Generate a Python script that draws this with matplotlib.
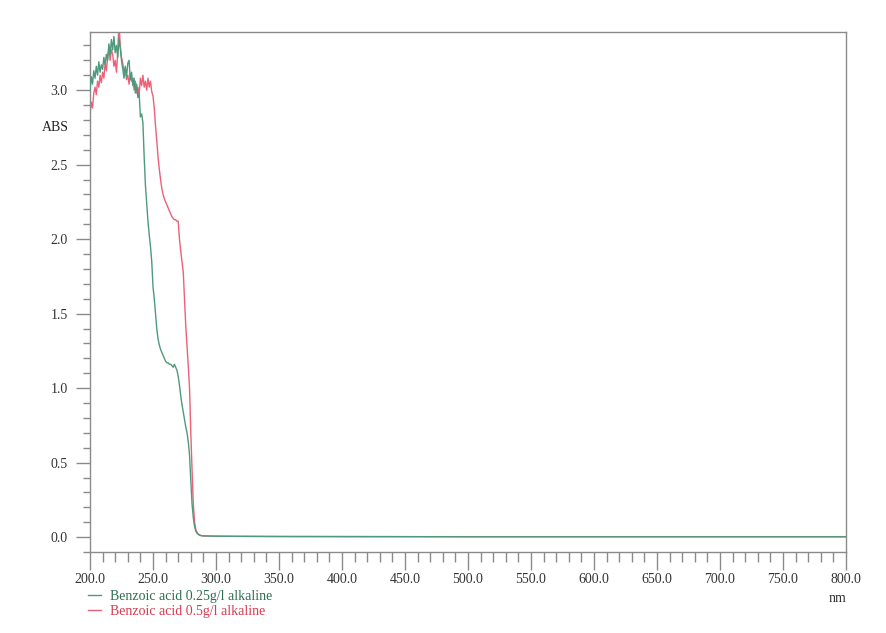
import matplotlib
matplotlib.use("Agg")
import matplotlib.pyplot as plt
from matplotlib.ticker import MultipleLocator, FormatStrFormatter
from matplotlib.lines import Line2D

plt.rcParams['font.family'] = ['Liberation Serif', 'DejaVu Serif']

# ---- data (wavelength in nm, absorbance) ----
wavelength = list(range(200, 291)) + [295, 300, 320, 350, 400, 450, 500, 550,
                                      600, 650, 700, 750, 800]

abs_025 = [3.00, 3.09, 3.04, 3.13, 3.08, 3.16, 3.10, 3.19, 3.12, 3.17,
           3.14, 3.22, 3.17, 3.24, 3.20, 3.31, 3.24, 3.34, 3.27, 3.36,
           3.25, 3.30, 3.22, 3.35, 3.28, 3.20, 3.14, 3.08, 3.16, 3.09,
           3.18, 3.20, 3.07, 3.12, 3.03, 3.08, 2.98, 3.04, 2.95, 2.98,
           2.82, 2.84, 2.78, 2.55, 2.36, 2.24, 2.12, 2.03, 1.95, 1.85,
           1.68,
           1.60, 1.50, 1.40, 1.33, 1.29, 1.26, 1.24, 1.22, 1.20, 1.18,
           1.17, 1.17, 1.16, 1.16, 1.15, 1.14, 1.16, 1.14, 1.12, 1.08,
           1.02, 0.95, 0.89, 0.84, 0.79, 0.74, 0.70, 0.64, 0.55, 0.38,
           0.22, 0.13, 0.07, 0.04, 0.025, 0.018, 0.013, 0.010, 0.009, 0.008,
           0.007, 0.006, 0.005, 0.004, 0.003, 0.003, 0.002, 0.002, 0.002,
           0.002, 0.002, 0.002, 0.002]

abs_05 = [2.84, 2.92, 2.88, 2.98, 3.02, 2.97, 3.06, 3.02, 3.10, 3.05,
          3.12, 3.08, 3.18, 3.13, 3.22, 3.28, 3.20, 3.27, 3.24, 3.16,
          3.20, 3.12, 3.25, 3.45, 3.30, 3.22, 3.18, 3.12, 3.15, 3.07,
          3.10, 3.04, 3.11, 3.06, 3.08, 3.00, 3.06, 2.98, 3.02, 2.97,
          3.08, 3.03, 3.10, 3.02, 3.06, 3.00, 3.08, 3.02, 3.06, 2.99,
          2.96,
          2.88, 2.76, 2.66, 2.55, 2.47, 2.40, 2.34, 2.30, 2.27, 2.25,
          2.23, 2.21, 2.19, 2.17, 2.15, 2.14, 2.13, 2.13, 2.12, 2.12,
          2.00, 1.92, 1.85, 1.78, 1.60, 1.42, 1.28, 1.15, 1.00, 0.70,
          0.45, 0.22, 0.10, 0.05, 0.03, 0.02, 0.014, 0.011, 0.009, 0.008,
          0.007, 0.006, 0.005, 0.004, 0.004, 0.003, 0.003, 0.003, 0.003,
          0.003, 0.003, 0.003, 0.003]

labels = ["Benzoic acid 0.25g/l alkaline", "Benzoic acid 0.5g/l alkaline"]
line_colors = ["#4e9a7c", "#ec6079"]
text_colors = ["#2f6e50", "#d93a50"]

# ---- figure ----
fig = plt.figure(figsize=(8.86, 6.33), dpi=100)
ax = fig.add_axes([90/886, 1-552/633, 756/886, 520/633])

l1, = ax.plot(wavelength, abs_025, color=line_colors[0], lw=1.0, zorder=3)
l2, = ax.plot(wavelength, abs_05, color=line_colors[1], lw=1.0, zorder=2)

ax.set_xlim(200, 800)
ax.set_ylim(-0.1, 3.39)

ax.xaxis.set_major_locator(MultipleLocator(50))
ax.xaxis.set_minor_locator(MultipleLocator(10))
ax.yaxis.set_major_locator(MultipleLocator(0.5))
ax.yaxis.set_minor_locator(MultipleLocator(0.1))
ax.xaxis.set_major_formatter(FormatStrFormatter('%.1f'))
ax.yaxis.set_major_formatter(FormatStrFormatter('%.1f'))
ax.set_yticks([0.0, 0.5, 1.0, 1.5, 2.0, 2.5, 3.0])

for s in ax.spines.values():
    s.set_color('#8a8a8a')
    s.set_linewidth(1.0)

ax.tick_params(axis='x', which='major', direction='out', length=13, width=1,
               color='#8a8a8a', labelsize=10, labelcolor='#333333', pad=2)
ax.tick_params(axis='x', which='minor', direction='out', length=7, width=1,
               color='#8a8a8a')
ax.tick_params(axis='y', which='major', direction='out', length=10, width=1,
               color='#8a8a8a', labelsize=10, labelcolor='#333333', pad=6)
ax.tick_params(axis='y', which='minor', direction='out', length=5, width=1,
               color='#8a8a8a')

fig.text(55/886, 1-128/633, 'ABS', ha='center', va='center',
         fontsize=10, color='#222222')
fig.text(838/886, 1-598/633, 'nm', ha='center', va='center',
         fontsize=10, color='#333333')

# legend below the axis
h1 = Line2D([], [], color=line_colors[0], lw=1.0)
h2 = Line2D([], [], color=line_colors[1], lw=1.0)
leg = fig.legend([h1, h2], labels, loc='upper left',
                 bbox_to_anchor=(88/886, 1-590/633), frameon=False,
                 fontsize=10, handlelength=0.9, handletextpad=0.7,
                 labelspacing=0.15, borderpad=0.0, borderaxespad=0.0)
for t, c in zip(leg.get_texts(), text_colors):
    t.set_color(c)

fig.savefig('out.png', dpi=100, facecolor='white')
